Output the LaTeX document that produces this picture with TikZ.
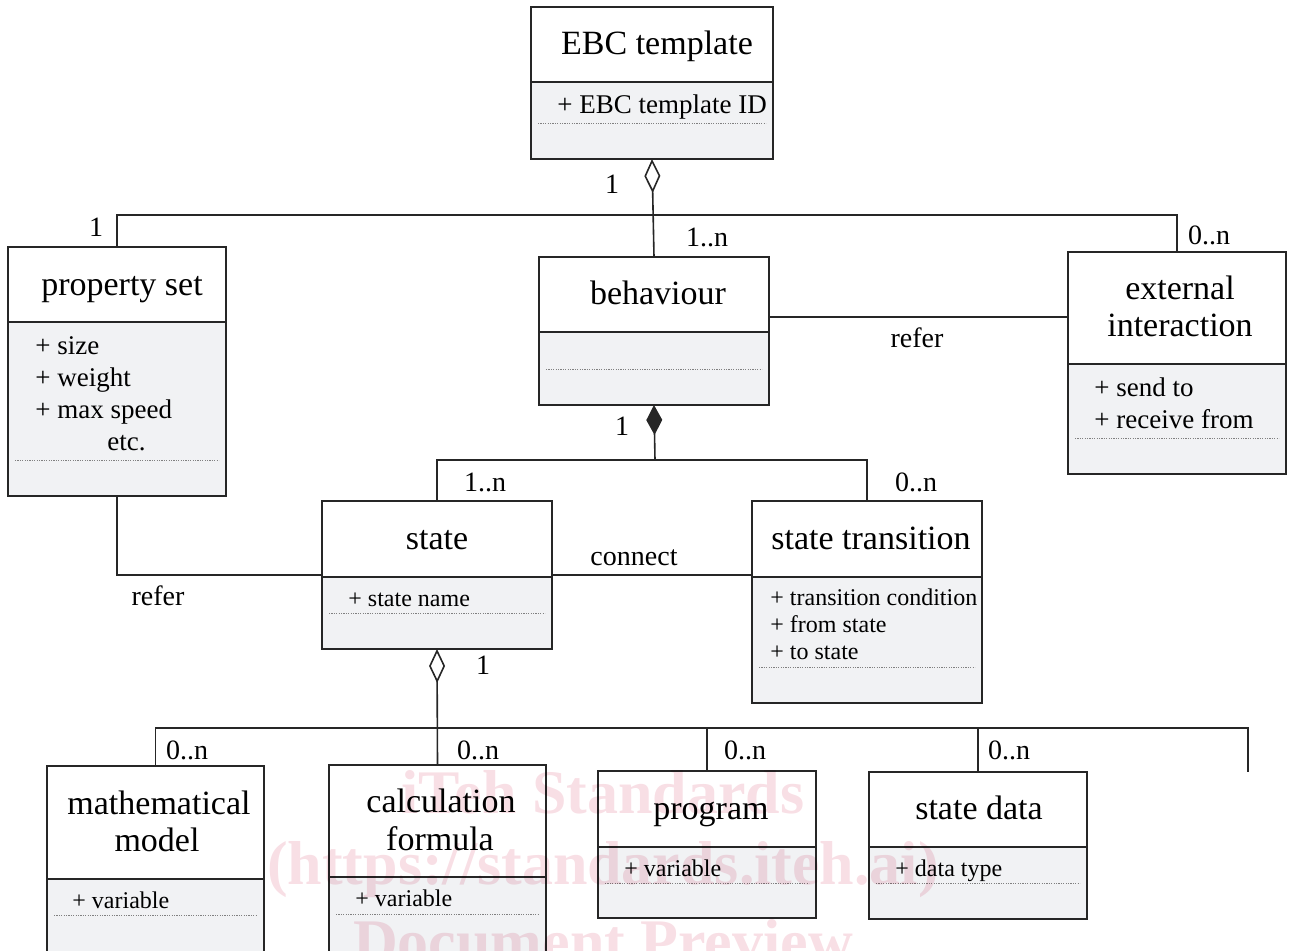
\documentclass[tikz,border=0pt]{standalone}
\usepackage{fontspec}
\setmainfont{Liberation Serif}
\usetikzlibrary{arrows.meta}
\definecolor{attrgray}{HTML}{F1F2F4}
\definecolor{wmpink}{HTML}{F8DFE5}
\tikzset{
  boxline/.style={draw=black!85, line width=1pt},
  conn/.style={draw=black!85, line width=0.8pt},
  ttl/.style={font=\fontsize{17}{18.5}\selectfont, anchor=mid, inner sep=0pt, yshift=-3pt},
  attr/.style={font=\fontsize{13.5}{16}\selectfont, anchor=mid west, inner sep=0pt, yshift=-2.5pt},
  sattr/.style={font=\fontsize{12}{13.5}\selectfont, anchor=mid west, inner sep=0pt, yshift=-2.5pt},
  lbl/.style={font=\fontsize{14}{16}\selectfont, anchor=mid, inner sep=0pt, yshift=-2.5pt},
  dotline/.style={draw=black!50, line width=0.3pt, dash pattern=on 0.6pt off 0.6pt},
  agg/.style={{Diamond[open,length=17pt,width=8pt]}-},
  comp/.style={{Diamond[length=15pt,width=8pt]}-},
  wm/.style={font=\fontsize{31}{31}\selectfont\bfseries, text=wmpink, anchor=base, inner sep=0pt}
}
\newcommand\umlbox[7]{%
  \fill[attrgray] (#2,#6) rectangle (#4,#5);
  \node[boxline, anchor=north west, minimum width={(#4-#2)*0.5pt}, minimum height={(#5-#3)*0.5pt}, inner sep=0pt, outer sep=0pt] (#1) at (#2,#3) {};
  \draw[boxline] (#2,#6) -- (#4,#6);
  \draw[dotline] ({#2+7},#7) -- ({#4-7},#7);
}
\begin{document}
\begin{tikzpicture}[x=0.5pt, y=-0.5pt]
\path[use as bounding box] (0,0) rectangle (1291,950);
\clip (0,0) rectangle (1291,950);

% boxes
\umlbox{ebc}{531}{7}{773}{159}{82}{123}
\umlbox{ps}{8}{247}{226}{496}{322}{460}
\umlbox{beh}{539}{257}{769}{405}{332}{369}
\umlbox{ext}{1068}{252}{1286}{474}{364}{438}
\umlbox{st}{322}{501}{552}{649}{577}{613}
\umlbox{tr}{752}{501}{982}{703}{577}{667}
\umlbox{mm}{47}{766}{264}{980}{879}{915}
\umlbox{calc}{329}{765}{546}{980}{877}{914}
\umlbox{prog}{598}{771}{816}{918}{847}{883}
\umlbox{sd}{869}{772}{1087}{919}{847}{883}

% watermark (behind the texts)
\begin{scope}[blend mode=multiply]
\node[wm] (wm1) at (603,813) {iTeh Standards};
\node[wm] (wm2) at (603,884) {(https://standards.iteh.ai)};
\node[wm] (wm3) at (603,962) {Document Preview};
\end{scope}

% texts
\node[ttl] (t-ebc) at (657,44) {EBC template};
\node[attr] (a-ebc) at (557,104) {+ EBC template ID};
\node[ttl] (t-ps) at (122,285) {property set};
\node[attr] (a-ps1) at (35,345) {+ size};
\node[attr] (a-ps2) at (35,377) {+ weight};
\node[attr] (a-ps3) at (35,409) {+ max speed};
\node[attr] (a-ps4) at (107,441) {etc.};
\node[ttl] (t-beh) at (658,294) {behaviour};
\node[ttl] (t-ext1) at (1180,289) {external};
\node[ttl] (t-ext2) at (1180,326) {interaction};
\node[attr] (a-ext1) at (1094,387) {+ send to};
\node[attr] (a-ext2) at (1094,419) {+ receive from};
\node[ttl] (t-st) at (437,539) {state};
\node[sattr] (a-st) at (348,597) {+ state name};
\node[ttl] (t-tr) at (871,539) {state transition};
\node[sattr] (a-tr1) at (770,596) {+ transition condition};
\node[sattr] (a-tr2) at (770,623) {+ from state};
\node[sattr] (a-tr3) at (770,650) {+ to state};
\node[ttl] (t-mm1) at (159,804) {mathematical};
\node[ttl] (t-mm2) at (157,841) {model};
\node[sattr] (a-mm) at (72,899) {+ variable};
\node[ttl] (t-calc1) at (441,802) {calculation};
\node[ttl] (t-calc2) at (440,840) {formula};
\node[sattr] (a-calc) at (355,897) {+ variable};
\node[ttl] (t-prog) at (711,809) {program};
\node[sattr] (a-prog) at (624,867) {+ variable};
\node[ttl] (t-sd) at (979,809) {state data};
\node[sattr] (a-sd) at (895,867) {+ data type};

% connectors
\coordinate (bus1) at (653,215);
\coordinate (bus2) at (655,460);
\coordinate (bus3) at (437,728);
\coordinate (stub) at (1248,772);
\draw[conn, agg] (ebc.south) -- (beh.north);
\draw[conn] (ps.north) |- (bus1) -| (ext.north);
\draw[conn] (beh.east |- 0,317) -- (ext.west |- 0,317);
\draw[conn, comp] (beh.south) -- (bus2);
\draw[conn] (st.north) |- (bus2) -| (tr.north);
\draw[conn] (st.east) -- (st.east -| tr.west);
\draw[conn] (ps.south) |- (st.west);
\draw[conn, agg] (st.south) -- (calc.north);
\draw[conn] (mm.north) |- (bus3) -| (stub);
\draw[conn] (prog.north) -- (prog.north |- bus3);
\draw[conn] (sd.north) -- (sd.north |- bus3);

% labels
\node[lbl] (l1) at (612,184) {1};
\node[lbl] (l2) at (96,227) {1};
\node[lbl] (l3) at (707,237) {1..n};
\node[lbl] (l4) at (1209,235) {0..n};
\node[lbl] (l5) at (917,338) {refer};
\node[lbl] (l6) at (622,426) {1};
\node[lbl] (l7) at (485,482) {1..n};
\node[lbl] (l8) at (916,482) {0..n};
\node[lbl] (l9) at (634,556) {connect};
\node[lbl] (l10) at (158,596) {refer};
\node[lbl] (l11) at (483,665) {1};
\node[lbl] (l12) at (187,750) {0..n};
\node[lbl] (l13) at (478,750) {0..n};
\node[lbl] (l14) at (745,750) {0..n};
\node[lbl] (l15) at (1009,750) {0..n};
\end{tikzpicture}
\end{document}
